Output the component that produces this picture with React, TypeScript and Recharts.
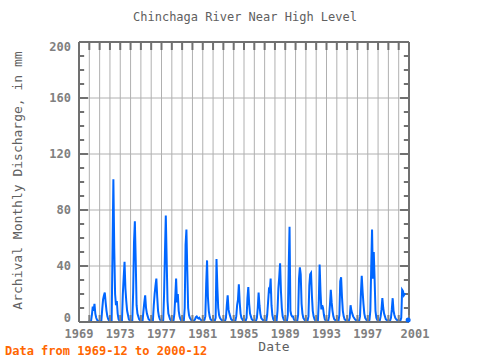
import React from "react";
import { CartesianGrid, Line, LineChart, ReferenceLine, XAxis, YAxis } from "recharts";

// monthly discharge (mm), series starts 1969-12
const flow1969 = [0.8];
const flow1970s = [
  0.6, 0.5, 0.6, 5, 11, 8, 13, 6, 3, 1.5, 1, 0.8,
  0.7, 0.6, 0.8, 9, 16, 19, 21, 14, 8, 4, 2, 1,
  0.8, 0.7, 1, 51, 102, 53, 20, 12, 15, 6, 2, 1,
  0.8, 0.7, 1, 20, 32, 43, 24, 15, 8, 5, 2, 1.2,
  1, 0.9, 1, 21, 57, 72, 44, 12, 6, 4, 2, 1.2,
  0.9, 0.8, 1, 8, 14, 19, 10, 6, 4, 2, 1.5, 1,
  0.8, 0.7, 1, 12, 20, 26, 31, 18, 8, 4, 2, 1,
  1, 0.9, 1.2, 20, 49, 76, 45, 15, 6, 4, 2, 1.2,
  1, 0.9, 1, 6, 18, 31, 14, 20, 8, 4, 2, 1,
  1, 0.9, 1, 10, 55, 66, 37, 10, 5, 3, 2, 1.2,
];
const flow1980s = [
  1, 0.9, 1, 2, 3.5, 4, 3, 2.5, 3, 2, 1.5, 1.2,
  1.5, 1.2, 1.5, 4, 27, 44, 18, 8, 4, 2, 1.5, 1,
  1, 0.9, 1, 3, 45, 25, 10, 5, 3, 2, 1.5, 1,
  0.9, 0.8, 1, 3, 12, 19, 9, 6, 4, 2, 1.5, 1,
  0.9, 0.8, 1, 4, 12, 16, 27, 14, 6, 3, 2, 1,
  0.9, 0.8, 1, 3, 17, 25, 13, 6, 4, 2, 1.5, 1,
  0.9, 0.8, 1, 3, 10, 21, 12, 6, 3, 2, 1.5, 1,
  1, 0.9, 1, 5, 14, 23, 22, 31, 12, 5, 2, 1,
  1, 0.9, 1, 8, 24, 32, 42, 22, 10, 4, 2, 1,
  1, 0.9, 1, 5, 38, 68, 8, 5, 4, 4, 2, 1,
];
const flow1990s = [
  1, 0.9, 1, 5, 31, 39, 34, 13, 6, 3, 2, 1,
  1, 0.9, 1, 4, 26, 34, 35, 19, 8, 4, 2, 1,
  1, 0.9, 1, 14, 41, 22, 9, 12, 10, 5, 2, 1,
  1, 0.9, 1, 4, 12, 23, 14, 8, 4, 2, 1.5, 1,
  1, 0.9, 1, 5, 29, 32, 18, 8, 4, 2, 1.5, 1,
  0.9, 0.8, 1, 3, 12, 8, 6, 4, 3, 2, 1.5, 1,
  1, 0.9, 1, 4, 20, 33, 22, 13, 6, 3, 2, 1,
  1, 1, 1.5, 8, 38, 66, 31, 50, 30, 8, 3, 1.5,
  1, 0.9, 1, 4, 9, 17, 10, 6, 4, 2, 1.5, 1,
  1, 0.9, 1, 3, 9, 17, 8, 5, 3, 2, 1.5, 1,
];
const flow2000 = [1, 0.9, 1, 3, 23, 22, 19, 20, 20, null, null, 1.5];

const yearTicks = Array.from({ length: 33 }, (_, i) => 1969 + i);
const labelYears = [1969, 1973, 1977, 1981, 1985, 1989, 1993, 1997, 2001];
const yTicks = [0, 40, 80, 120, 160, 200];
const yMinorTicks = [10, 20, 30, 50, 60, 70, 90, 100, 110, 130, 140, 150, 170, 180, 190];

const allFlow = [...flow1969, ...flow1970s, ...flow1980s, ...flow1990s, ...flow2000];
const data = allFlow.map((v, i) => ({ t: 1969 + (11 + i) / 12, flow: v }));

const FONT = "'DejaVu Sans Mono', monospace";
const AXIS = "#707070";

function XTick(props: any) {
  const { x, y, payload } = props;
  if (!labelYears.includes(payload.value)) return <g />;
  const dx = payload.value === 2001 ? 6 : 0;
  return (
    <text x={x + dx} y={y} dy={8} textAnchor="middle" fontFamily={FONT} fontSize={12} fontWeight="bold" fill="#808080">
      {payload.value}
    </text>
  );
}

function YTick(props: any) {
  const { x, y, payload } = props;
  const v = payload.value;
  const shift = v === 200 ? 5 : v === 0 ? -4 : 0;
  return (
    <text x={x} y={y + shift} dy={4} textAnchor="end" fontFamily={FONT} fontSize={12} fontWeight="bold" fill="#808080">
      {v}
    </text>
  );
}

function LoneDot(props: any) {
  const { cx, cy, index } = props;
  const prev = index > 0 ? allFlow[index - 1] : null;
  const next = index < allFlow.length - 1 ? allFlow[index + 1] : null;
  if (allFlow[index] == null || prev != null || next != null) return <g key={index} />;
  return <circle key={index} cx={cx} cy={cy} r={2.5} fill="#0066ff" />;
}

export default function App() {
  return (
    <div style={{ position: "absolute", left: 0, top: 0, width: 480, height: 360, background: "#fff" }}>
      <LineChart width={480} height={360} data={data} margin={{ top: 42, right: 71, left: 0, bottom: 8 }}>
        <CartesianGrid stroke="#b0b0b0" strokeWidth={1} />
        <XAxis
          dataKey="t"
          type="number"
          domain={[1969, 2001]}
          ticks={yearTicks}
          interval={0}
          tick={<XTick />}
          tickLine={false}
          axisLine={{ stroke: AXIS, strokeWidth: 2 }}
          height={30}
        />
        <YAxis
          type="number"
          domain={[0, 200]}
          ticks={yTicks}
          interval={0}
          tick={<YTick />}
          tickLine={false}
          axisLine={{ stroke: AXIS, strokeWidth: 2 }}
          width={79}
        />
        <ReferenceLine y={200} stroke={AXIS} strokeWidth={2} />
        <ReferenceLine x={2001} stroke={AXIS} strokeWidth={2} />
        {yearTicks.map((yr) => (
          <ReferenceLine key={"tt" + yr} segment={[{ x: yr, y: 200 }, { x: yr, y: 194.3 }]} stroke={AXIS} strokeWidth={2} />
        ))}
        {yTicks.map((v) => (
          <ReferenceLine key={"lm" + v} segment={[{ x: 1969, y: v }, { x: 1969.87, y: v }]} stroke={AXIS} strokeWidth={2} />
        ))}
        {yTicks.map((v) => (
          <ReferenceLine key={"rm" + v} segment={[{ x: 2000.13, y: v }, { x: 2001, y: v }]} stroke={AXIS} strokeWidth={2} />
        ))}
        {yMinorTicks.map((v) => (
          <ReferenceLine key={"ln" + v} segment={[{ x: 1969, y: v }, { x: 1969.5, y: v }]} stroke={AXIS} strokeWidth={2} />
        ))}
        {yMinorTicks.map((v) => (
          <ReferenceLine key={"rn" + v} segment={[{ x: 2000.5, y: v }, { x: 2001, y: v }]} stroke={AXIS} strokeWidth={2} />
        ))}
        <Line
          type="linear"
          dataKey="flow"
          stroke="#0066ff"
          strokeWidth={2}
          dot={<LoneDot />}
          activeDot={false}
          connectNulls={false}
          isAnimationActive={false}
        />
        {yearTicks.map((yr) => (
          <ReferenceLine key={"bt" + yr} segment={[{ x: yr, y: 0 }, { x: yr, y: 5 }]} stroke="#808080" strokeWidth={2} />
        ))}
      </LineChart>
      <div style={{ position: "absolute", left: 0, top: 10, width: 490, textAlign: "center", fontFamily: FONT, fontSize: 12, color: "#606060" }}>
        Chinchaga River Near High Level
      </div>
      <div
        style={{
          position: "absolute",
          left: 17 - 150,
          top: 182 - 9,
          width: 300,
          textAlign: "center",
          fontFamily: FONT,
          fontSize: 13,
          color: "#606060",
          transform: "rotate(-90deg)",
        }}
      >
        Archival Monthly Discharge, in mm
      </div>
      <div style={{ position: "absolute", left: 234, top: 339, width: 80, textAlign: "center", fontFamily: FONT, fontSize: 13, color: "#606060" }}>
        Date
      </div>
      <div style={{ position: "absolute", left: 5, top: 344, fontFamily: FONT, fontSize: 12, fontWeight: "bold", color: "#ff6600" }}>
        Data from 1969-12 to 2000-12
      </div>
    </div>
  );
}
